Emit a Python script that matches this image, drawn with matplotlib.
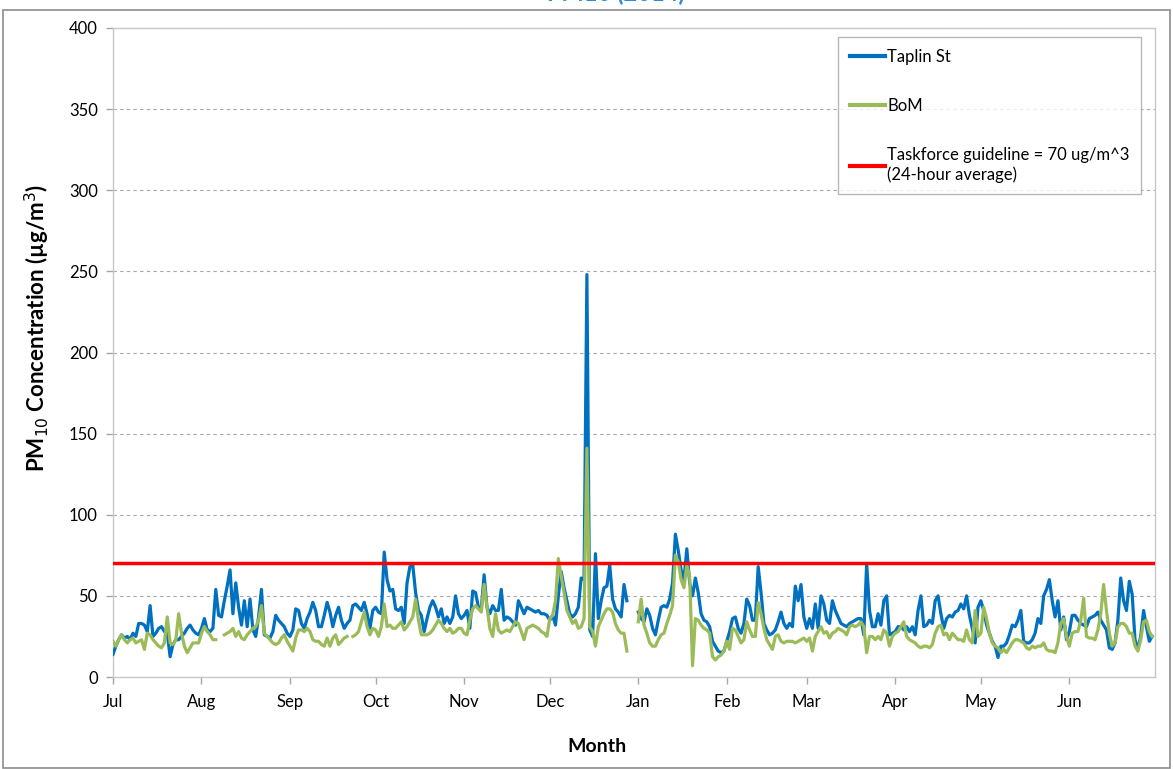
import numpy as np
import matplotlib
matplotlib.use("Agg")
import matplotlib.pyplot as plt
from matplotlib.patches import Rectangle

plt.rcParams['font.family'] = ['Lato', 'DejaVu Sans']

nan = np.nan

# daily PM10, 1 Jul .. 30 Jun (day index 0..364)
taplin = [
    14, 19, 23, 26, 24, 25, 23, 27, 25, 33,
    33, 32, 28, 44, 25, 27, 30, 31, 28, 27,
    12.5, 20, 23, 23, 25, 27, 30, 32, 29, 27,
    26, 30, 36, 29, 28, 30, 54, 38, 37, 47,
    56, 66, 39, 58, 43, 32, 47, 31, 48, 29,
    25, 37, 54, 26, 25, 24, 28, 38, 35, 33,
    31, 27, 25, 29, 42, 41, 33, 30, 36, 40,
    46, 41, 31, 31, 38, 46, 40, 31, 38, 43,
    35, 30, 33, 35, 44, 45, 43, 41, 46, 39,
    30, 41, 43, 40, 39, 77, 60, 53, 54, 42,
    41, 43, 33, 58, 68, 69, 52, 41, 38, 28,
    36, 43, 47, 43, 37, 42, 33, 37, 33, 37,
    50, 39, 36, 38, 41, 30, 53, 52, 43, 42,
    63, 43, 39, 44, 41, 41, 54, 35, 37, 36,
    34, 32, 47, 43, 39, 43, 42, 41, 40, 41,
    39, 39, 38, 35, 38, 32, 50, 65, 55, 47,
    39, 37, 39, 43, 61, 60, 248, 29, 25, 76,
    36, 47, 55, 56, 69, 48, 42, 40, 37, 57,
    47, nan, nan, nan, 40, 36, 34, 42, 38, 30,
    26, 35, 43, 44, 43, 48, 58, 88, 78, 66,
    60, 79, 58, 50, 61, 52, 39, 35, 34, 31,
    22, 19, 16, 15, 16, 22, 28, 36, 37, 30,
    27, 33, 48, 44, 35, 35, 68, 52, 33, 29,
    26, 27, 29, 34, 40, 33, 30, 33, 31, 56,
    47, 57, 37, 30, 36, 30, 45, 30, 50, 45,
    35, 33, 47, 41, 37, 33, 32, 31, 33, 34,
    35, 36, 36, 26, 70, 41, 31, 31, 39, 32,
    47, 50, 26, 27, 28, 31, 31, 29, 31, 28,
    31, 26, 41, 50, 31, 32, 35, 33, 47, 50,
    39, 30, 36, 38, 37, 40, 41, 45, 42, 50,
    38, 30, 21, 43, 47, 41, 32, 27, 22, 19,
    12, 19, 19, 21, 26, 32, 31, 35, 41, 22,
    21, 21, 23, 27, 36, 33, 50, 54, 60, 47,
    37, 47, 29, 37, 23, 28, 38, 38, 35, 33,
    32, 31, 36, 37, 38, 40, 35, 32, 29, 18,
    17, 21, 35, 61, 47, 41, 59, 51, 23, 17,
    25, 41, 31, 22, 25,
]

bom = [
    22, 19, 23, 26, 23, 21, 23, 24, 21, 22,
    23, 17, 27, 26, 23, 21, 19, 18, 21, 37,
    21, 20, 23, 39, 27, 19, 15, 18, 21, 21,
    21, 27, 31, 28, 26, 23, 23, nan, nan, 26,
    27, 28, 30, 25, 28, 24, 23, 26, 28, 30,
    31, 35, 44, 27, 25, 23, 21, 20, 21, 24,
    26, 22, 19, 16, 24, 29, 29, 28, 30, 28,
    23, 22, 22, 20, 19, 24, 19, 24, 26, 20,
    22, 24, 25, nan, 25, 26, 28, 34, 40, 31,
    26, 30, 29, 25, 31, 45, 31, 32, 30, 30,
    32, 34, 29, 31, 34, 37, 48, 35, 26, 26,
    26, 27, 29, 32, 35, 33, 30, 28, 30, 27,
    28, 30, 30, 27, 26, 35, 42, 44, 42, 40,
    57, 43, 30, 25, 39, 29, 27, 28, 29, 28,
    31, 34, 33, 28, 23, 30, 31, 32, 31, 30,
    28, 27, 25, 36, 38, 47, 73, 62, 52, 41,
    37, 33, 35, 30, 31, 36, 141, 31, 28, 19,
    31, 35, 39, 42, 42, 40, 33, 29, 27, 27,
    16, nan, nan, nan, 34, 48, 32, 27, 21, 19,
    19, 23, 26, 27, 33, 38, 44, 75, 71, 60,
    55, 69, 62, 7, 36, 35, 32, 30, 29, 27,
    12.5, 10.5, 12.5, 13.5, 16, 22, 17, 30, 29, 25,
    21, 23, 34, 29, 25, 25, 46, 39, 30, 23,
    20, 17, 25, 26, 22, 21, 22, 22, 22, 21,
    22, 23, 24, 22, 24, 16, 25, 28, 31, 27,
    28, 24, 27, 28, 30, 29, 28, 26, 31, 32,
    31, 32, 34, 31, 15, 25, 25, 23, 25, 23,
    29, 27, 19, 25, 27, 28, 31, 34, 25, 23,
    22, 21, 19, 18, 19, 19, 18, 20, 27, 31,
    32, 26, 27, 23, 27, 25, 23, 23, 22, 29,
    23, 21, 41, 25, 27, 43, 36, 27, 21, 19,
    18, 15, 17, 15, 18, 21, 23, 23, 22, 21,
    18, 17, 19, 18, 19, 19, 21, 17, 16, 16,
    15, 21, 33, 36, 25, 19, 27, 28, 28, 35,
    48.5, 25, 24, 24, 23, 29, 39, 57, 41, 27,
    19, 21, 31, 33, 33, 31, 27, 27, 19, 16,
    23, 34, 35, 28, 25,
]

guideline = 70
month_labels = ['Jul', 'Aug', 'Sep', 'Oct', 'Nov', 'Dec',
                'Jan', 'Feb', 'Mar', 'Apr', 'May', 'Jun']
month_days = [31, 31, 30, 31, 30, 31, 31, 28, 31, 30, 31, 30]

days = np.arange(len(taplin))
month_starts = np.concatenate([[0], np.cumsum(month_days)[:-1]])

fig = plt.figure(figsize=(11.73, 7.69), dpi=100)
ax = fig.add_axes([113 / 1173, 1 - 677 / 769, 1042 / 1173, 649 / 769])

# outer chart frame
fig.patches.append(Rectangle((3 / 1173, 1 / 769), 1167 / 1173, 758 / 769,
                             transform=fig.transFigure, fill=False,
                             edgecolor='#8c8c8c', lw=1.2))
# title, almost all of it above the top edge
fig.text(0.525, 1 - 1 / 769, 'PM10 (2014)', ha='center', va='baseline',
         fontsize=17, fontweight='bold', color='#2e8bd6')

ax.plot(days, taplin, color='#0070C0', lw=2.3, label='Taplin St', zorder=3)
ax.plot(days, bom, color='#9BBB59', lw=2.3, label='BoM', zorder=4)
ax.axhline(guideline, color='#FF0000', lw=2.5, zorder=5,
           label='Taskforce guideline = 70 ug/m^3\n(24-hour average)')

ax.set_xlim(0, 365)
ax.set_ylim(0, 400)
ax.set_yticks(np.arange(0, 401, 50))
ax.set_xticks(month_starts)
ax.set_xticklabels(month_labels)
ax.yaxis.grid(True, color='#a6a6a6', ls=(0, (3, 3)), lw=0.8)
ax.set_axisbelow(True)

for s in ax.spines.values():
    s.set_color('#c8c8c8')
    s.set_linewidth(1.0)
ax.tick_params(axis='both', colors='#a6a6a6', labelcolor='black',
               labelsize=12, length=5, width=1)
ax.tick_params(axis='x', pad=7)
ax.tick_params(axis='y', pad=6)

ax.set_ylabel('PM$_{10}$ Concentration (µg/m$^3$)', fontsize=16,
              fontweight='bold')
ax.yaxis.set_label_coords(-0.0585, 0.538)
ax.set_xlabel('Month', fontsize=14, fontweight='bold')
ax.xaxis.set_label_coords(0.4645, -0.094)

leg = ax.legend(loc='upper right', bbox_to_anchor=(0.987, 0.986),
                fancybox=False, shadow=False, fontsize=12,
                labelspacing=2.0, handlelength=2.1, handletextpad=0.15,
                borderpad=0.7, borderaxespad=0)
leg.get_frame().set_edgecolor('#a6a6a6')
leg.get_frame().set_linewidth(1.0)
for line in leg.get_lines():
    line.set_linewidth(3)

fig.savefig('out.png', dpi=100)
